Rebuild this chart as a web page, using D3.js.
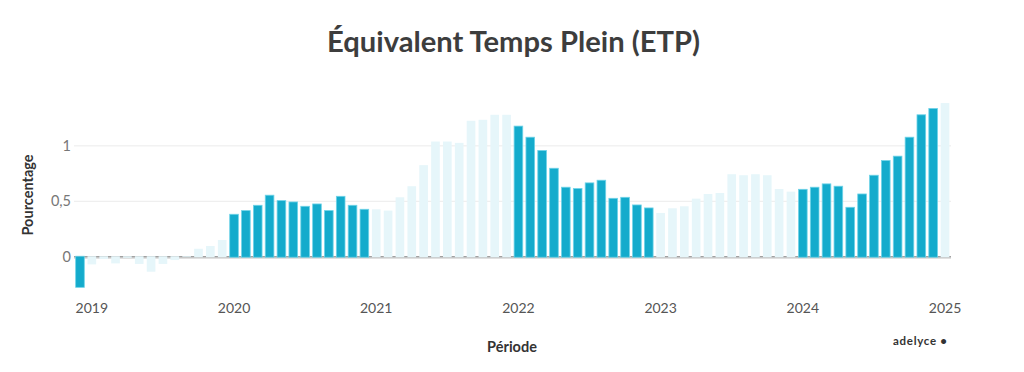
<!DOCTYPE html>
<html>
<head>
<meta charset="utf-8">
<script src="https://cdn.jsdelivr.net/npm/d3@7"></script>
<style>
  html, body { margin: 0; padding: 0; background: #fff; }
  svg { display: block; font-family: Lato, "Open Sans", sans-serif; }
</style>
</head>
<body>
<svg id="chart" width="1024" height="372"></svg>
<script>
// months from Dec 2018 to Jan 2025
var periods = ['2018-12'];
var years = ['2019', '2020', '2021', '2022', '2023', '2024'];
years.forEach(function (y) {
    for (var m = 1; m <= 12; m++) { periods.push(y + '-' + (m < 10 ? '0' + m : m)); }
});
periods.push('2025-01');

var values = [
    -0.276,
    -0.069, -0.02, -0.06, -0.01, -0.065, -0.135, -0.065, -0.03, 0.003, 0.072, 0.097, 0.151,
    0.383, 0.416, 0.464, 0.555, 0.506, 0.494, 0.455, 0.476, 0.416, 0.545, 0.464, 0.428,
    0.428, 0.416, 0.536, 0.636, 0.826, 1.039, 1.039, 1.027, 1.226, 1.235, 1.28, 1.28,
    1.178, 1.078, 0.958, 0.798, 0.627, 0.615, 0.666, 0.69, 0.527, 0.536, 0.467, 0.44,
    0.395, 0.437, 0.455, 0.524, 0.566, 0.575, 0.744, 0.735, 0.744, 0.735, 0.611, 0.587,
    0.608, 0.627, 0.657, 0.636, 0.446, 0.566, 0.735, 0.867, 0.907, 1.078, 1.28, 1.337,
    1.386
];

var yTicks = [0, 0.5, 1];
var xTickLabels = ['2019', '2020', '2021', '2022', '2023', '2024', '2025'];

var svg = d3.select('#chart');

var x = d3.scaleBand().domain(periods).range([74, 951]).paddingInner(0.27).paddingOuter(0.14);
var y = d3.scaleLinear().domain([-0.3, 1.5]).range([290, 90.4]);

var fr = d3.formatLocale({decimal: ',', thousands: ' ', grouping: [3], currency: ['', '€']});
var fmt = fr.format('~g');

// grid
svg.append('g').selectAll('line').data(yTicks.filter(function (d) { return d !== 0; }))
    .join('line')
    .attr('x1', 74).attr('x2', 951)
    .attr('y1', function (d) { return y(d); }).attr('y2', function (d) { return y(d); })
    .attr('stroke', '#ebebeb').attr('stroke-width', 1);

// y axis labels
var yAxis = svg.append('g').attr('transform', 'translate(74,0)')
    .call(d3.axisLeft(y).tickValues(yTicks).tickFormat(fmt).tickSize(0).tickPadding(3));
yAxis.select('.domain').remove();
yAxis.selectAll('text').attr('fill', '#777').attr('font-size', 14.5).attr('font-family', 'Lato, sans-serif');

// zero line
svg.append('line').attr('x1', 74).attr('x2', 951).attr('y1', y(0) + 1).attr('y2', y(0) + 1)
    .attr('stroke', '#d6d6d6').attr('stroke-width', 2);
svg.append('line').attr('x1', 74).attr('x2', 951).attr('y1', y(0)).attr('y2', y(0))
    .attr('stroke', '#8a8a8a').attr('stroke-width', 1);

function isDark(p) { return (+p.slice(0, 4)) % 2 === 0; }

svg.append('g').selectAll('rect').data(periods)
    .join('rect')
    .attr('x', function (d) { return x(d); })
    .attr('width', x.bandwidth())
    .attr('y', function (d, i) { return Math.min(y(values[i]), y(0) - 0.5); })
    .attr('height', function (d, i) { return Math.abs(y(values[i]) - y(0)) + 0.5; })
    .attr('fill', function (d) { return isDark(d) ? '#14abcc' : '#e6f6fa'; })
    .attr('stroke', function (d) { return isDark(d) ? '#6fd3e8' : 'none'; })
    .attr('stroke-width', 0.8);

// x axis labels, first one kept inside the plot
var xAxis = svg.append('g').attr('transform', 'translate(0,' + 302 + ')');
xAxis.selectAll('text').data(xTickLabels).join('text')
    .attr('x', function (d) { return Math.max(x(d + '-01') + x.bandwidth() / 2, 90.5); })
    .attr('y', 11)
    .attr('text-anchor', 'middle')
    .attr('fill', '#555').attr('font-size', 14)
    .text(function (d) { return d; });

// titles
svg.append('text').attr('x', 513.5).attr('y', 52).attr('text-anchor', 'middle')
    .attr('font-size', 29).attr('font-weight', 700).attr('fill', '#3d3d3d')
    .attr('textLength', 373).attr('lengthAdjust', 'spacingAndGlyphs')
    .text('Équivalent Temps Plein (ETP)');

svg.append('text').attr('transform', 'translate(36,195) rotate(-90)')
    .attr('text-anchor', 'middle').attr('font-size', 14.5).attr('font-weight', 700)
    .attr('fill', '#333').attr('dy', '-0.2em').text('Pourcentage');

svg.append('text').attr('x', 512).attr('y', 352).attr('text-anchor', 'middle')
    .attr('font-size', 14.5).attr('font-weight', 700).attr('fill', '#333').text('Période');

svg.append('text').attr('x', 947).attr('y', 345).attr('text-anchor', 'end')
    .attr('font-size', 11.5).attr('font-weight', 700).attr('fill', '#333')
    .attr('textLength', 54).attr('lengthAdjust', 'spacing').text('adelyce •');
</script>
</body>
</html>
